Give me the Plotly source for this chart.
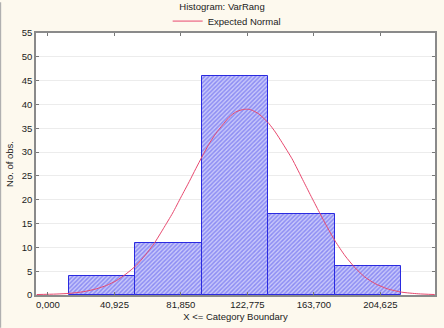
import plotly.graph_objects as go

# Histogram bars (bin centres), counts
bin_centers = [33330, 74255, 115180, 156105, 197030]
bin_width = 40925
counts = [4, 11, 46, 17, 6]

# Expected normal curve points
curve_x = [-6920, 5000, 13480, 22000, 29840, 36000, 42090, 48000, 54340, 60000,
           65550, 71000, 76770, 82000, 86990, 91000, 95140, 99000, 103350,
           107500, 111500, 115500, 119650, 122220, 124800, 129880, 136000,
           140000, 144150, 150280, 157450, 162500, 167680, 172000, 176870,
           183000, 189120, 195000, 201370, 209000, 217670, 228000, 238130]
curve_y = [0.1, 0.2, 0.35, 0.7, 1.3, 2.0, 3.0, 4.4, 6.2, 8.4,
           10.9, 13.9, 17.2, 20.6, 23.8, 26.5, 29.2, 31.6, 33.9,
           35.7, 37.3, 38.4, 38.9, 39.0, 38.9, 38.0, 36.0,
           34.2, 32.0, 28.6, 23.8, 20.4, 17.0, 14.2, 11.3,
           8.2, 5.7, 3.8, 2.4, 1.3, 0.6, 0.25, 0.1]

tick_vals = [0, 40925, 81850, 122775, 163700, 204625]
tick_text = ["0,000", "40,925", "81,850", "122,775", "163,700", "204,625"]
y_ticks = [0, 5, 10, 15, 20, 25, 30, 35, 40, 45, 50, 55]

FONT = "Liberation Sans, Arial, sans-serif"

fig = go.Figure()
fig.add_trace(go.Bar(
    x=bin_centers, y=counts, width=bin_width,
    marker=dict(color="#b8b8f4",
                line=dict(color="#2a2ae0", width=1),
                pattern=dict(shape="/", fgcolor="#5050ec", bgcolor="#c8c8fa",
                             size=3, solidity=0.5)),
    showlegend=False, hoverinfo="skip"))
fig.add_trace(go.Scatter(
    x=curve_x, y=curve_y, mode="lines", name="Expected Normal",
    line=dict(color="#e8486e", width=1, shape="spline", smoothing=0.6)))

fig.update_layout(
    width=444, height=328,
    margin=dict(l=36, r=7, t=31, b=33),
    paper_bgcolor="#fdf9ee", plot_bgcolor="#ffffff",
    font=dict(family=FONT, size=9, color="#222222"),
    title=dict(text="Histogram: VarRang", x=0.5, xref="container",
               y=1 - 7/328, yref="container", yanchor="middle",
               xanchor="center", font=dict(size=9.5, family=FONT)),
    legend=dict(orientation="h", x=0.33, xanchor="left", y=1 + 12/264,
                yanchor="middle", bgcolor="rgba(0,0,0,0)", itemwidth=30,
                font=dict(size=9.5, family=FONT)),
    bargap=0,
    xaxis=dict(range=[-7350, 238300], tickvals=tick_vals, ticktext=tick_text,
               ticks="inside", ticklen=3, tickcolor="#777777",
               showgrid=False, zeroline=False,
               showline=True, linecolor="#8a8a8a", linewidth=1.5, mirror="allticks",
               title=dict(text="X <= Category Boundary", standoff=4,
                          font=dict(size=9.5, family=FONT)),
               tickfont=dict(size=9.5, family=FONT)),
    yaxis=dict(range=[0, 55], tickvals=y_ticks,
               ticks="inside", ticklen=3, tickcolor="#777777",
               showgrid=True, gridcolor="#ececec", gridwidth=1, zeroline=False,
               showline=True, linecolor="#8a8a8a", linewidth=1.5, mirror="allticks",
               title=dict(text="No. of obs.", standoff=6,
                          font=dict(size=9.5, family=FONT)),
               tickfont=dict(size=9.5, family=FONT)),
    shapes=[dict(type="line", xref="paper", yref="paper", x0=-36/401, x1=-36/401,
                 y0=-33/264, y1=1 + 31/264, line=dict(color="#b0b0b0", width=2))],
)

fig.write_html("out.html")
